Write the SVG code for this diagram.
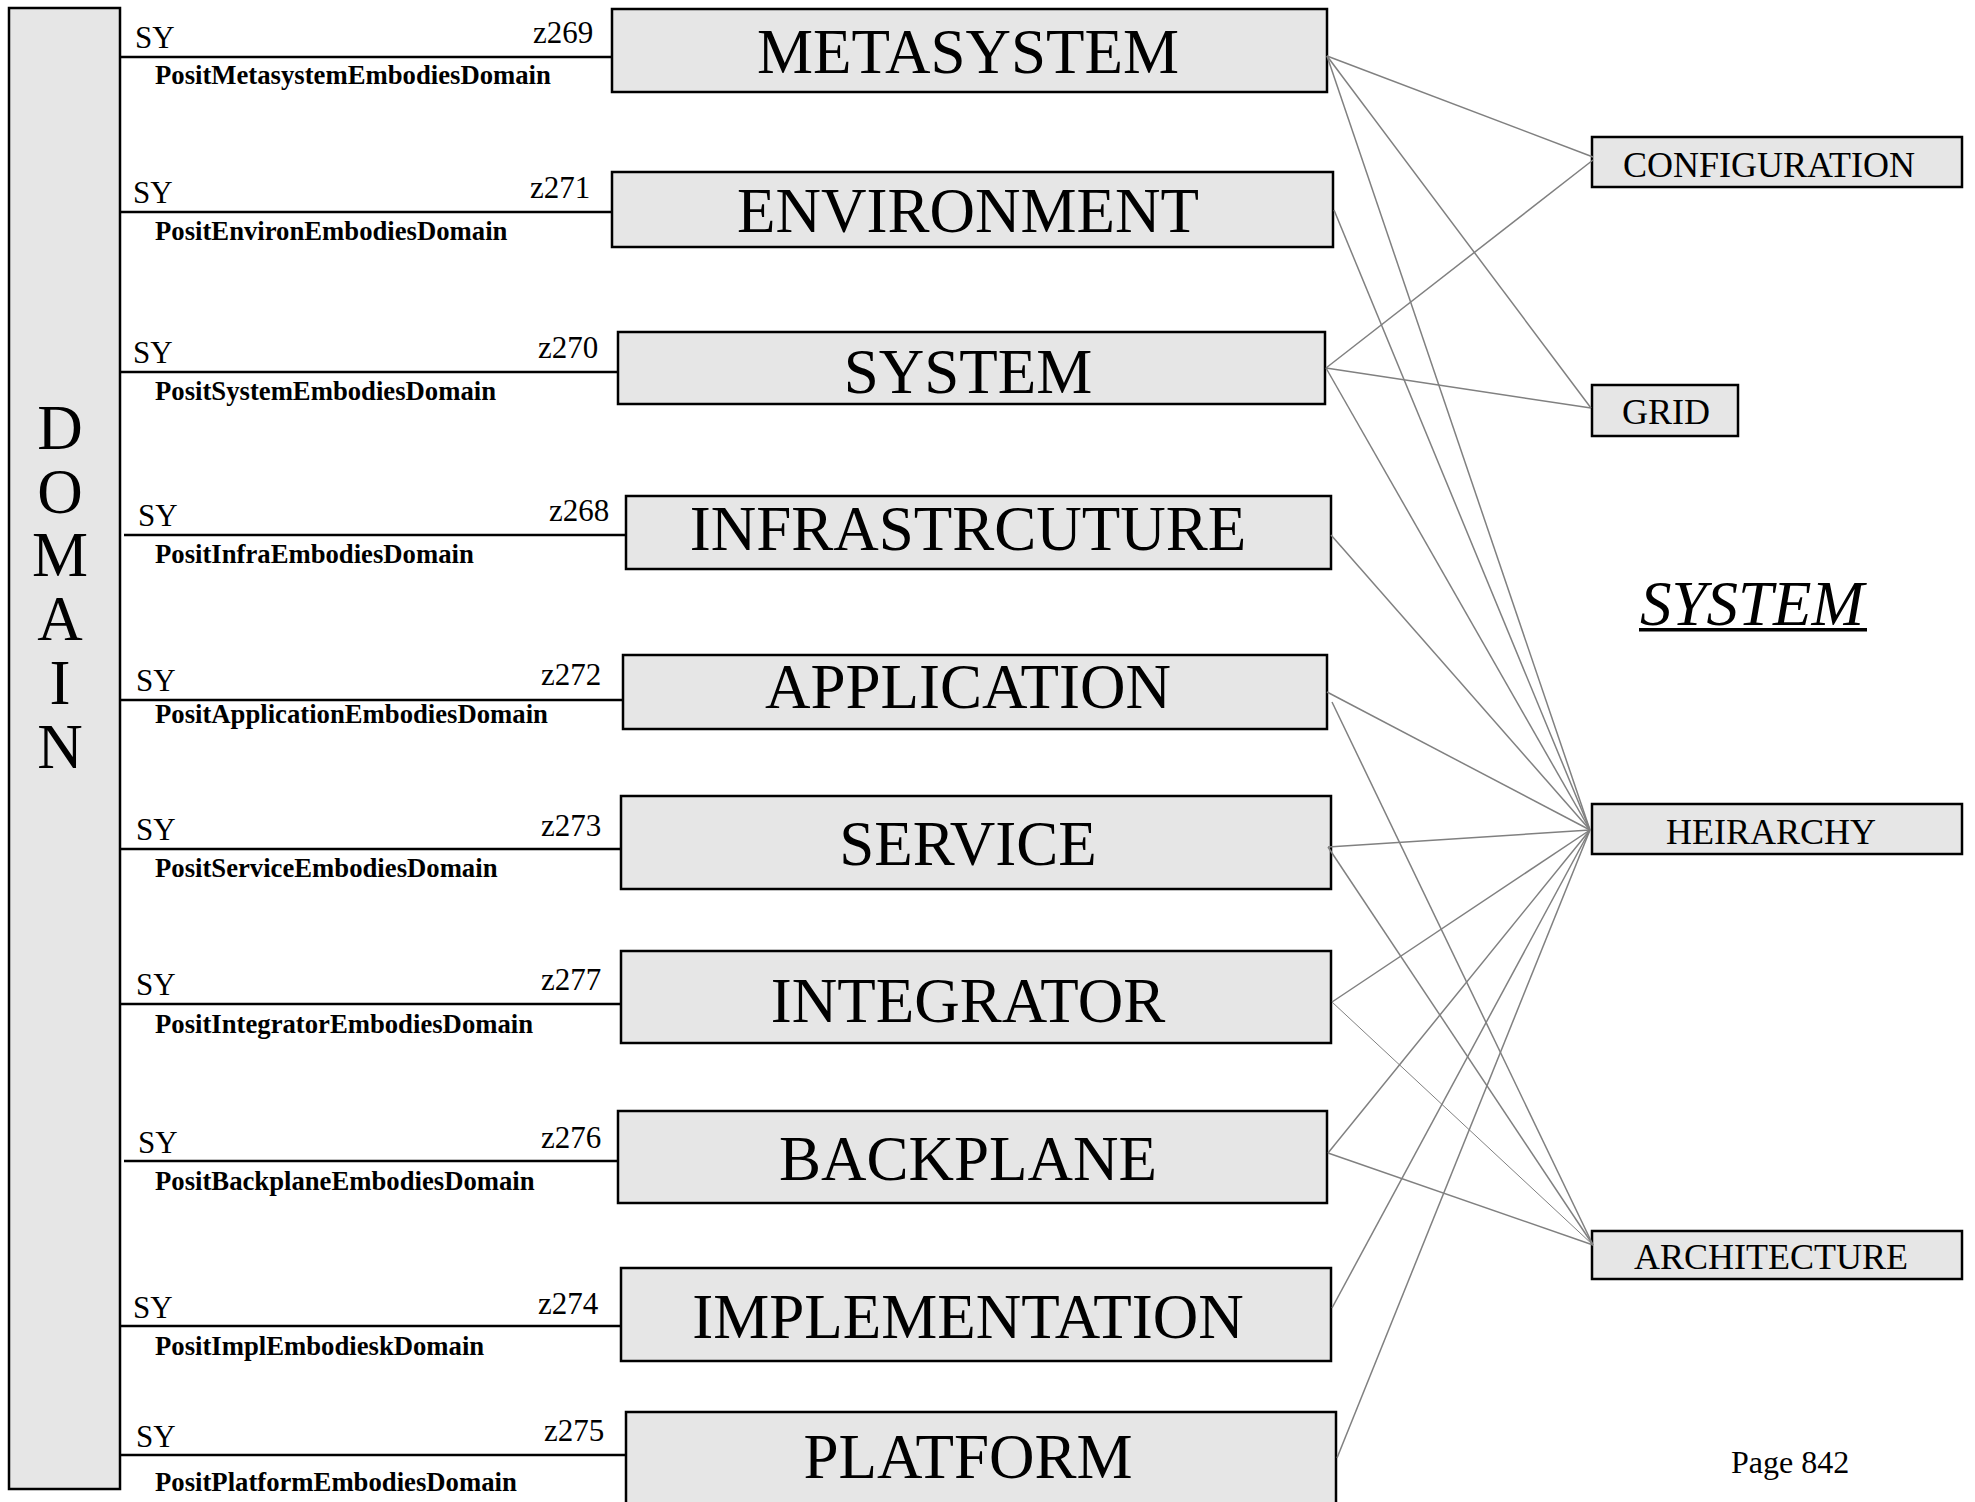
<svg xmlns="http://www.w3.org/2000/svg" width="1975" height="1502" viewBox="0 0 1975 1502">
<style>
.box{fill:#e6e6e6;stroke:#000;stroke-width:2.5}
.br{stroke:#000;stroke-width:2.5;fill:none}
.big{font-family:"Liberation Serif","Times New Roman",serif;font-size:63px;text-anchor:middle;fill:#000}
.sm{font-family:"Liberation Serif","Times New Roman",serif;font-size:36px;text-anchor:middle;fill:#000}
.sy{font-family:"Liberation Serif","Times New Roman",serif;font-size:31px;fill:#000}
.lb{font-family:"Liberation Serif","Times New Roman",serif;font-size:26.7px;font-weight:bold;fill:#000}
.dm{font-family:"Liberation Serif","Times New Roman",serif;font-size:63px;fill:#000;writing-mode:vertical-rl;text-orientation:upright;letter-spacing:-6.3px}
.cn line{stroke:#808080;stroke-width:1.5}
</style>
<rect width="1975" height="1502" fill="#fff"/>

<g id="domain">
<rect class="box" x="9" y="8" width="111" height="1481"/>
<text class="dm" x="60" y="393">DOMAIN</text>
</g>

<g id="branches">
<g id="b-metasystem"><line class="br" x1="120" y1="57" x2="612" y2="57"/><text class="sy" x="135" y="48">SY</text><text class="sy" x="533" y="43">z269</text><text class="lb" x="155" y="84">PositMetasystemEmbodiesDomain</text></g>
<g id="b-environment"><line class="br" x1="120" y1="212" x2="612" y2="212"/><text class="sy" x="133" y="203">SY</text><text class="sy" x="530" y="198">z271</text><text class="lb" x="155" y="240">PositEnvironEmbodiesDomain</text></g>
<g id="b-system"><line class="br" x1="120" y1="372" x2="618" y2="372"/><text class="sy" x="133" y="363">SY</text><text class="sy" x="538" y="358">z270</text><text class="lb" x="155" y="400">PositSystemEmbodiesDomain</text></g>
<g id="b-infra"><line class="br" x1="124" y1="535" x2="629" y2="535"/><text class="sy" x="138" y="526">SY</text><text class="sy" x="549" y="521">z268</text><text class="lb" x="155" y="563">PositInfraEmbodiesDomain</text></g>
<g id="b-application"><line class="br" x1="120" y1="700" x2="623" y2="700"/><text class="sy" x="136" y="691">SY</text><text class="sy" x="541" y="685">z272</text><text class="lb" x="155" y="723">PositApplicationEmbodiesDomain</text></g>
<g id="b-service"><line class="br" x1="120" y1="849" x2="621" y2="849"/><text class="sy" x="136" y="840">SY</text><text class="sy" x="541" y="836">z273</text><text class="lb" x="155" y="877">PositServiceEmbodiesDomain</text></g>
<g id="b-integrator"><line class="br" x1="120" y1="1004" x2="621" y2="1004"/><text class="sy" x="136" y="995">SY</text><text class="sy" x="541" y="990">z277</text><text class="lb" x="155" y="1033">PositIntegratorEmbodiesDomain</text></g>
<g id="b-backplane"><line class="br" x1="124" y1="1161" x2="618" y2="1161"/><text class="sy" x="138" y="1153">SY</text><text class="sy" x="541" y="1148">z276</text><text class="lb" x="155" y="1190">PositBackplaneEmbodiesDomain</text></g>
<g id="b-implementation"><line class="br" x1="120" y1="1326" x2="621" y2="1326"/><text class="sy" x="133" y="1318">SY</text><text class="sy" x="538" y="1314">z274</text><text class="lb" x="155" y="1355">PositImplEmbodieskDomain</text></g>
<g id="b-platform"><line class="br" x1="120" y1="1455" x2="626" y2="1455"/><text class="sy" x="136" y="1447">SY</text><text class="sy" x="544" y="1441">z275</text><text class="lb" x="155" y="1491">PositPlatformEmbodiesDomain</text></g>
</g>

<g id="metasystem"><rect class="box" x="612" y="9" width="715" height="83"/><text class="big" x="968" y="73">METASYSTEM</text></g>
<g id="environment"><rect class="box" x="612" y="172" width="721" height="75"/><text class="big" x="968" y="232">ENVIRONMENT</text></g>
<g id="system"><rect class="box" x="618" y="332" width="707" height="72"/><text class="big" x="968" y="393">SYSTEM</text></g>
<g id="infrastructure"><rect class="box" x="626" y="496" width="705" height="73"/><text class="big" x="968" y="550">INFRASTRCUTURE</text></g>
<g id="application"><rect class="box" x="623" y="655" width="704" height="74"/><text class="big" x="968" y="708">APPLICATION</text></g>
<g id="service"><rect class="box" x="621" y="796" width="710" height="93"/><text class="big" x="968" y="865">SERVICE</text></g>
<g id="integrator"><rect class="box" x="621" y="951" width="710" height="92"/><text class="big" x="968" y="1022">INTEGRATOR</text></g>
<g id="backplane"><rect class="box" x="618" y="1111" width="709" height="92"/><text class="big" x="968" y="1180">BACKPLANE</text></g>
<g id="implementation"><rect class="box" x="621" y="1268" width="710" height="93"/><text class="big" x="968" y="1338">IMPLEMENTATION</text></g>
<g id="platform"><rect class="box" x="626" y="1412" width="710" height="100"/><text class="big" x="968" y="1478">PLATFORM</text></g>

<g id="configuration"><rect class="box" x="1592" y="137" width="370" height="50"/><text class="sm" x="1769" y="177">CONFIGURATION</text></g>
<g id="grid"><rect class="box" x="1592" y="385" width="146" height="51"/><text class="sm" x="1666" y="424">GRID</text></g>
<g id="heirarchy"><rect class="box" x="1592" y="804" width="370" height="50"/><text class="sm" x="1771" y="844">HEIRARCHY</text></g>
<g id="architecture"><rect class="box" x="1592" y="1231" width="370" height="48"/><text class="sm" x="1771" y="1269">ARCHITECTURE</text></g>

<g id="title"><text x="1752" y="625" style="font-family:'Liberation Serif','Times New Roman',serif;font-size:63px;font-style:italic;text-anchor:middle">SYSTEM</text><rect x="1639" y="628" width="228" height="3.5" fill="#000"/></g>
<g id="page"><text x="1731" y="1473" style="font-family:'Liberation Serif','Times New Roman',serif;font-size:32px">Page 842</text></g>

<g id="connectors" class="cn">
<line x1="1327" y1="56" x2="1593" y2="157"/>
<line x1="1327" y1="56" x2="1591" y2="408"/>
<line x1="1327" y1="56" x2="1590" y2="830"/>
<line x1="1334" y1="210" x2="1590" y2="830"/>
<line x1="1326" y1="368" x2="1593" y2="160"/>
<line x1="1326" y1="368" x2="1591" y2="408"/>
<line x1="1326" y1="368" x2="1590" y2="830"/>
<line x1="1331" y1="535" x2="1590" y2="830"/>
<line x1="1327" y1="692" x2="1590" y2="830"/>
<line x1="1332" y1="702" x2="1593" y2="1245"/>
<line x1="1328" y1="847" x2="1590" y2="830"/>
<line x1="1328" y1="847" x2="1593" y2="1245"/>
<line x1="1332" y1="1002" x2="1590" y2="830"/>
<line x1="1332" y1="1002" x2="1593" y2="1245" style="stroke-width:1"/>
<line x1="1328" y1="1153" x2="1590" y2="830"/>
<line x1="1328" y1="1153" x2="1593" y2="1245"/>
<line x1="1332" y1="1308" x2="1590" y2="830"/>
<line x1="1337" y1="1458" x2="1590" y2="830"/>
</g>
</svg>
